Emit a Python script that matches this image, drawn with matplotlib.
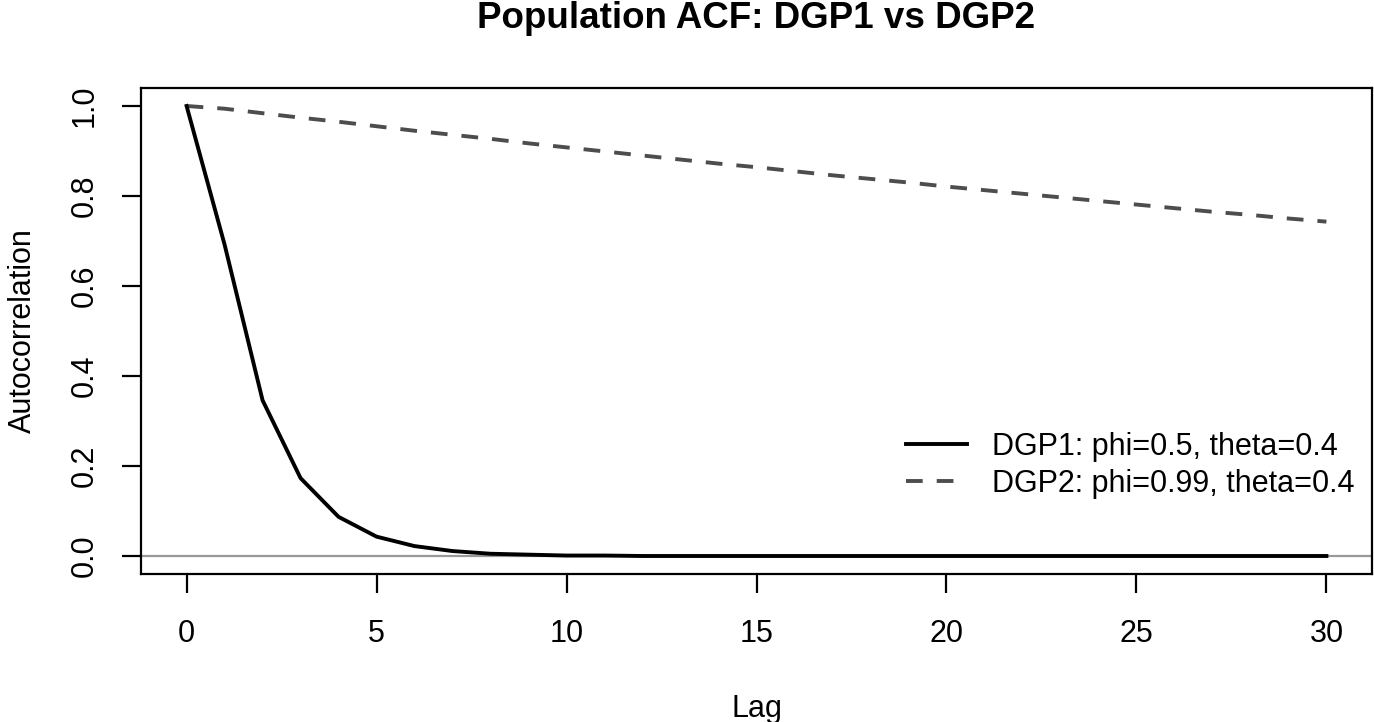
import matplotlib.pyplot as plt
import numpy as np

plt.rcParams['font.family'] = ['Liberation Sans', 'DejaVu Sans']

lags = list(range(0, 31))

# ACF values
acf_dgp1 = [1.000, 0.692, 0.346, 0.173, 0.087, 0.043, 0.022, 0.011, 0.005, 0.003,
            0.001, 0.001, 0.000, 0.000, 0.000, 0.000, 0.000, 0.000, 0.000, 0.000,
            0.000, 0.000, 0.000, 0.000, 0.000, 0.000, 0.000, 0.000, 0.000, 0.000,
            0.000]
acf_dgp2 = [1.000, 0.994, 0.984, 0.974, 0.965, 0.955, 0.945, 0.936, 0.927, 0.917,
            0.908, 0.899, 0.890, 0.881, 0.872, 0.864, 0.855, 0.846, 0.838, 0.830,
            0.821, 0.813, 0.805, 0.797, 0.789, 0.781, 0.773, 0.765, 0.758, 0.750,
            0.743]

labels = ["DGP1: phi=0.5, theta=0.4", "DGP2: phi=0.99, theta=0.4"]
x_ticks = [0, 5, 10, 15, 20, 25, 30]
y_ticks = [0.0, 0.2, 0.4, 0.6, 0.8, 1.0]

fig = plt.figure(figsize=(13.74, 7.22), dpi=100)
ax = fig.add_axes([141/1374, 1 - 574/722, (1372-141)/1374, (574-88)/722])

ax.axhline(0, color="#999999", lw=1.6, zorder=1)
ax.plot(lags, acf_dgp1, color="black", lw=2.8, label=labels[0], zorder=3)
ax.plot(lags, acf_dgp2, color="#4D4D4D", lw=2.8, dashes=(4.3, 3.6), label=labels[1], zorder=2)

ax.set_xlim(-1.2, 31.2)
ax.set_ylim(-0.04, 1.04)
ax.set_xticks(x_ticks)
ax.set_xticklabels([str(t) for t in x_ticks])
ax.set_yticks(y_ticks)
ax.set_yticklabels(["%.1f" % t for t in y_ticks], rotation=90, va="center")

for s in ax.spines.values():
    s.set_linewidth(1.6)
ax.tick_params(axis="both", length=13.5, width=1.6, labelsize=22)
ax.tick_params(axis="x", pad=19)
ax.tick_params(axis="y", pad=16)

ax.set_xlabel("Lag", fontsize=22, labelpad=32)
ax.set_ylabel("Autocorrelation", fontsize=22, labelpad=23)
# title centred over the plot box, as R does
ax.text(0.5, 1 + 70/486, "Population ACF: DGP1 vs DGP2", transform=ax.transAxes,
        ha="center", va="center", fontsize=26.5, fontweight="bold")

ax.legend(loc="lower right", bbox_to_anchor=(1.003, 0.11), frameon=False, fontsize=22,
          handlelength=2.0, handletextpad=0.8, labelspacing=0.25, borderpad=0.2)

fig.savefig("out.png", dpi=100)
